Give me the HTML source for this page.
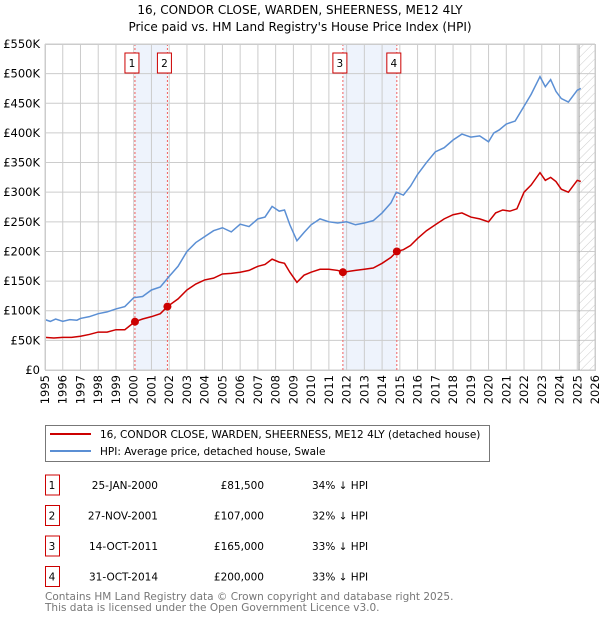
<!DOCTYPE html>
<html><head><meta charset="utf-8"><style>
body{margin:0;background:#fff;font-family:"DejaVu Sans","Liberation Sans",sans-serif;}
svg text{font-family:"DejaVu Sans","Liberation Sans",sans-serif;}
</style></head><body>
<svg id="chart" width="600" height="620" xmlns="http://www.w3.org/2000/svg">
<defs><pattern id="hatch" width="6" height="6" patternUnits="userSpaceOnUse" patternTransform="rotate(45)"><line x1="0" y1="0" x2="0" y2="6" stroke="#ccc" stroke-width="1"/></pattern></defs>
<text x="300" y="14" text-anchor="middle" font-size="12" fill="#000">16, CONDOR CLOSE, WARDEN, SHEERNESS, ME12 4LY</text>
<text x="300" y="31" text-anchor="middle" font-size="12" fill="#000">Price paid vs. HM Land Registry's House Price Index (HPI)</text>
<g id="plot"></g>
<g>
<rect x="45.5" y="425.5" width="444" height="36" fill="#fff" stroke="#777"/>
<line x1="50" y1="434" x2="91" y2="434" stroke="#cc0000" stroke-width="2"/>
<text x="100" y="438" font-size="10.5">16, CONDOR CLOSE, WARDEN, SHEERNESS, ME12 4LY (detached house)</text>
<line x1="50" y1="451" x2="91" y2="451" stroke="#5b8fd4" stroke-width="2"/>
<text x="100" y="455" font-size="10.5">HPI: Average price, detached house, Swale</text>
</g>
<g id="table" font-size="10.5"></g>
<text x="45" y="600" font-size="10.5" fill="#777">Contains HM Land Registry data © Crown copyright and database right 2025.</text>
<text x="45" y="611" font-size="10.5" fill="#777">This data is licensed under the Open Government Licence v3.0.</text>
</svg>
<script>
const yTicks=[0,50000,100000,150000,200000,250000,300000,350000,400000,450000,500000,550000];
const yTickLabels=["£0","£50K","£100K","£150K","£200K","£250K","£300K","£350K","£400K","£450K","£500K","£550K"];
const years=[1995,1996,1997,1998,1999,2000,2001,2002,2003,2004,2005,2006,2007,2008,2009,2010,2011,2012,2013,2014,2015,2016,2017,2018,2019,2020,2021,2022,2023,2024,2025,2026];
const hpiDates=[1995,1995.3,1995.6,1996,1996.4,1996.8,1997,1997.5,1998,1998.5,1999,1999.5,2000,2000.5,2001,2001.5,2002,2002.5,2003,2003.5,2004,2004.5,2005,2005.5,2006,2006.5,2007,2007.4,2007.8,2008.2,2008.5,2008.8,2009.2,2009.6,2010,2010.5,2011,2011.5,2012,2012.5,2013,2013.5,2014,2014.5,2014.8,2015.2,2015.6,2016,2016.5,2017,2017.5,2018,2018.5,2019,2019.5,2020,2020.3,2020.6,2021,2021.5,2022,2022.4,2022.9,2023.2,2023.5,2023.8,2024.1,2024.5,2025,2025.2];
const hpiValues=[85000,82000,86000,82000,85000,84000,87000,90000,95000,98000,103000,107000,122000,124000,135000,140000,158000,175000,200000,215000,225000,235000,240000,233000,246000,242000,255000,258000,276000,268000,270000,245000,218000,232000,245000,255000,250000,248000,250000,245000,248000,252000,265000,282000,300000,295000,310000,330000,350000,368000,375000,388000,398000,393000,395000,385000,400000,405000,415000,420000,445000,465000,495000,478000,490000,470000,458000,452000,472000,475000];
const ppDates=[1995,1995.5,1996,1996.5,1997,1997.5,1998,1998.5,1999,1999.5,2000.07,2000.5,2001,2001.5,2001.9,2002.5,2003,2003.5,2004,2004.5,2005,2005.5,2006,2006.5,2007,2007.4,2007.8,2008.2,2008.5,2008.8,2009.2,2009.6,2010,2010.5,2011,2011.5,2011.79,2012.5,2013,2013.5,2014,2014.5,2014.83,2015.2,2015.6,2016,2016.5,2017,2017.5,2018,2018.5,2019,2019.5,2020,2020.4,2020.8,2021.2,2021.6,2022,2022.4,2022.9,2023.2,2023.5,2023.8,2024.1,2024.5,2025,2025.2];
const ppValues=[55000,54000,55000,55000,57000,60000,64000,64000,68000,68000,81500,86000,90000,95000,107000,120000,135000,145000,152000,155000,162000,163000,165000,168000,175000,178000,187000,182000,180000,165000,148000,160000,165000,170000,170000,168000,165000,168000,170000,172000,180000,190000,200000,203000,210000,222000,235000,245000,255000,262000,265000,258000,255000,250000,265000,270000,268000,272000,300000,312000,333000,320000,325000,318000,305000,300000,320000,318000];
const saleDates=[2000.07,2001.9,2011.79,2014.83];
const saleValues=[81500,107000,165000,200000];
const saleLabels=["1","2","3","4"];
const saleDateText=["25-JAN-2000","27-NOV-2001","14-OCT-2011","31-OCT-2014"];
const salePriceText=["£81,500","£107,000","£165,000","£200,000"];
const saleDiffText=["34% ↓ HPI","32% ↓ HPI","33% ↓ HPI","33% ↓ HPI"];
const X0=45,X1=595,Y0=370,Y1=44;
const xs=d=>X0+(d-1995)/(2026-1995)*(X1-X0);
const ys=v=>Y0-v/550000*(Y0-Y1);
const NS="http://www.w3.org/2000/svg";
function mk(tag,attrs,parent){const e=document.createElementNS(NS,tag);for(const k in attrs)e.setAttribute(k,attrs[k]);parent.appendChild(e);return e;}
const plot=document.getElementById('plot');
for(let i=0;i<saleDates.length;i+=2){
 const r=mk('rect',{x:xs(saleDates[i]),y:Y1,width:xs(saleDates[i+1])-xs(saleDates[i]),height:Y0-Y1,fill:'#eef3fc'},plot);
 
 
}
const fut=mk('rect',{x:xs(2025.1),y:Y1,width:X1-xs(2025.1),height:Y0-Y1,fill:'url(#hatch)'},plot);


years.forEach(y=>{
 const l=mk('line',{x1:xs(y),x2:xs(y),y1:Y1,y2:Y0,stroke:'#ccc','stroke-width':1},plot);
 
 
 const t=mk('text',{x:0,y:0,'text-anchor':'end','font-size':'11.5',transform:'translate('+(xs(y)+4)+','+(Y0+5)+') rotate(-90)'},plot);
 t.textContent=y;
 
 
});
yTicks.forEach((v,i)=>{
 const l=mk('line',{x1:X0,x2:X1,y1:ys(v),y2:ys(v),stroke:'#ccc','stroke-width':1},plot);
 
 
 const t=mk('text',{x:X0-5,y:ys(v)+4,'text-anchor':'end','font-size':'11.5'},plot);
 t.textContent=yTickLabels[i];
 
 
});
const nowl=mk('line',{x1:xs(2025.1),x2:xs(2025.1),y1:Y1,y2:Y0,stroke:'#999','stroke-width':1},plot);


saleDates.forEach((d,i)=>{
 const l=mk('line',{x1:xs(d),x2:xs(d),y1:Y1,y2:Y0,stroke:'#f06060','stroke-width':1,'stroke-dasharray':'2,2'},plot);
 
 
 const bx=mk('rect',{x:xs(d)-10,y:53,width:14,height:20,fill:'#fff',stroke:'#cc0000'},plot);
 
 
 const t=mk('text',{x:xs(d)-3,y:67,'text-anchor':'middle','font-size':'10.5'},plot);
 t.textContent=saleLabels[i];
 
 
});
const hp=mk('polyline',{points:hpiDates.map((d,i)=>xs(d)+','+ys(hpiValues[i])).join(' '),fill:'none',stroke:'#5b8fd4','stroke-width':1.5},plot);


const pp=mk('polyline',{points:ppDates.map((d,i)=>xs(d)+','+ys(ppValues[i])).join(' '),fill:'none',stroke:'#cc0000','stroke-width':1.5},plot);


saleDates.forEach((d,i)=>{
 const c=mk('circle',{cx:xs(d),cy:ys(saleValues[i]),r:4,fill:'#cc0000'},plot);
 
 
});
const border=mk('rect',{x:X0+0.5,y:Y1+0.5,width:X1-X0,height:Y0-Y1,fill:'none',stroke:'#ccc'},plot);


const tb=document.getElementById('table');
saleLabels.forEach((s,i)=>{
 const y=482+i*30.5;
 const b=mk('rect',{x:45.5,y:y-7,width:14,height:20,fill:'#fff',stroke:'#cc0000'},tb);
 
 
 const cells=[[52,s,'middle'],[158,saleDateText[i],'end'],[264,salePriceText[i],'end'],[312,saleDiffText[i],'start']];
 cells.forEach((c,j)=>{
  const t=mk('text',{x:c[0],y:y+7,'text-anchor':c[2],'font-size':'10.5'},tb);
  t.textContent=c[1];
  
  
 });
});
</script>
</body></html>
